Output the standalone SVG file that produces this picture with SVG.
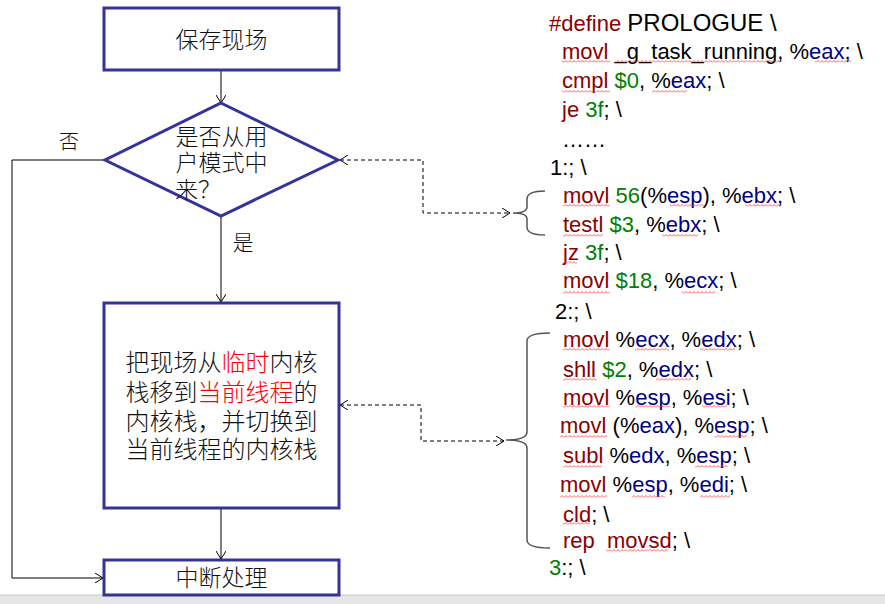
<svg xmlns="http://www.w3.org/2000/svg" width="885" height="604" viewBox="0 0 885 604">
<style>
.box{fill:#fff;stroke:#333399;stroke-width:3}
.cn{font-family:"Noto Sans CJK SC","Noto Sans",sans-serif;font-weight:300;fill:#111}
.hl{fill:#ff0000}
.line{fill:none;stroke:#000;stroke-width:1}
.dash{fill:none;stroke:#000;stroke-width:1;stroke-dasharray:4 3}
.brace{fill:none;stroke:#555;stroke-width:1.5}
.code{font-family:"Liberation Sans",Arial,sans-serif;font-size:22px;fill:#000}
.k{fill:#8b0000}
.n{fill:#008000}
.r{fill:#000080}
.sq{fill:url(#sq)}
</style>
<defs>
<marker id="ah" viewBox="0 0 8 10" refX="8" refY="5" markerWidth="8" markerHeight="10" markerUnits="userSpaceOnUse" orient="auto-start-reverse">
<path d="M0,0 L8,5 L0,10" fill="none" stroke="#000" stroke-width="1"/>
</marker>
<pattern id="sq" width="4" height="3" patternUnits="userSpaceOnUse">
<path d="M0,2.5 L2,0.5 L4,2.5" fill="none" stroke="#ff3030" stroke-width="0.8"/>
</pattern>
</defs>
<rect x="0" y="595" width="885" height="9" fill="#e6e6e6"/>
<line x1="0" y1="595" x2="885" y2="595" stroke="#c8c8c8" stroke-width="1"/>

<g id="connectors">
<path class="line" d="M221,70 V103" marker-end="url(#ah)"/>
<path class="line" d="M221,216 V302" marker-end="url(#ah)"/>
<path class="line" d="M221,508 V559" marker-end="url(#ah)"/>
<path class="line" d="M105,160 H12 V578 H103" marker-end="url(#ah)"/>
<path class="dash" d="M340,160 H423 V213 H510" marker-start="url(#ah)" marker-end="url(#ah)"/>
<path class="dash" d="M340,405 H421 V441 H504" marker-start="url(#ah)" marker-end="url(#ah)"/>
</g>

<g id="n-save">
<rect class="box" x="104" y="8" width="235" height="62"/>
<text class="cn" x="221.5" y="48" font-size="23" text-anchor="middle">保存现场</text>
</g>

<g id="n-decision">
<polygon class="box" points="221,103 338,160 221,216 105,160"/>
<text class="cn" x="221.5" y="145" font-size="23" text-anchor="middle">是否从用</text>
<text class="cn" x="221.5" y="171" font-size="23" text-anchor="middle">户模式中</text>
<text class="cn" x="175" y="198" font-size="23">来？</text>
</g>

<g id="labels">
<text class="cn" x="69" y="149" font-size="20" text-anchor="middle">否</text>
<text class="cn" x="243" y="250" font-size="21" text-anchor="middle">是</text>
</g>

<g id="n-copy">
<rect class="box" x="104" y="303" width="235" height="205"/>
<text class="cn" x="221.5" y="371" font-size="24" text-anchor="middle">把现场从<tspan class="hl">临时</tspan>内核</text>
<text class="cn" x="221.5" y="401" font-size="24" text-anchor="middle">栈移到<tspan class="hl">当前线程</tspan>的</text>
<text class="cn" x="221.5" y="430" font-size="24" text-anchor="middle">内核栈，并切换到</text>
<text class="cn" x="221.5" y="458" font-size="24" text-anchor="middle">当前线程的内核栈</text>
</g>

<g id="n-irq">
<rect class="box" x="104" y="560" width="235" height="35"/>
<text class="cn" x="221.5" y="586" font-size="23" text-anchor="middle">中断处理</text>
</g>

<g id="braces">
<path class="brace" d="M545,191 Q527,191 527,199 L527,207 Q527,213 513,213 Q527,213 527,219 L527,227 Q527,235 545,235"/>
<path class="brace" d="M550,333 Q527,333 527,341 L527,432 Q527,440 506,440 Q527,440 527,448 L527,540 Q527,548 550,548"/>
</g>

<g id="code">
<text class="code" x="549" y="31"><tspan class="k">#define </tspan><tspan font-size="24">PROLOGUE \</tspan></text>
<text class="code" x="562" y="59"><tspan class="k">movl</tspan> _g_task_running, %<tspan class="r">eax</tspan>; \</text>
<text class="code" x="562" y="88"><tspan class="k">cmpl</tspan> <tspan class="n">$0</tspan>, %<tspan class="r">eax</tspan>; \</text>
<text class="code" x="562" y="117"><tspan class="k">je</tspan> <tspan class="n">3f</tspan>; \</text>
<text class="code" x="562" y="147">……</text>
<text class="code" x="550" y="175">1:; \</text>
<text class="code" x="563" y="203"><tspan class="k">movl</tspan> <tspan class="n">56</tspan>(%<tspan class="r">esp</tspan>), %<tspan class="r">ebx</tspan>; \</text>
<text class="code" x="563" y="232"><tspan class="k">testl</tspan> <tspan class="n">$3</tspan>, %<tspan class="r">ebx</tspan>; \</text>
<text class="code" x="563" y="260"><tspan class="k">jz</tspan> <tspan class="n">3f</tspan>; \</text>
<text class="code" x="563" y="288"><tspan class="k">movl</tspan> <tspan class="n">$18</tspan>, %<tspan class="r">ecx</tspan>; \</text>
<text class="code" x="555" y="319">2:; \</text>
<text class="code" x="563" y="347"><tspan class="k">movl</tspan> %<tspan class="r">ecx</tspan>, %<tspan class="r">edx</tspan>; \</text>
<text class="code" x="563" y="377"><tspan class="k">shll</tspan> <tspan class="n">$2</tspan>, %<tspan class="r">edx</tspan>; \</text>
<text class="code" x="563" y="405"><tspan class="k">movl</tspan> %<tspan class="r">esp</tspan>, %<tspan class="r">esi</tspan>; \</text>
<text class="code" x="560" y="433"><tspan class="k">movl</tspan> (%<tspan class="r">eax</tspan>), %<tspan class="r">esp</tspan>; \</text>
<text class="code" x="563" y="463"><tspan class="k">subl</tspan> %<tspan class="r">edx</tspan>, %<tspan class="r">esp</tspan>; \</text>
<text class="code" x="560" y="492"><tspan class="k">movl</tspan> %<tspan class="r">esp</tspan>, %<tspan class="r">edi</tspan>; \</text>
<text class="code" x="563" y="522"><tspan class="k">cld</tspan>; \</text>
<text class="code" x="563" y="548" xml:space="preserve"><tspan class="k">rep  movsd</tspan>; \</text>
<text class="code" x="549" y="575"><tspan class="n">3</tspan>:; \</text>
</g>

<g id="spelling-marks">
<rect class="sq" x="562" y="60" width="48" height="3"/>
<rect class="sq" x="615" y="60" width="165" height="3"/>
<rect class="sq" x="815" y="60" width="36" height="3"/>
<rect class="sq" x="562" y="90" width="48" height="3"/>
<rect class="sq" x="652" y="90" width="35" height="3"/>
<rect class="sq" x="563" y="204" width="47" height="3"/>
<rect class="sq" x="670" y="204" width="35" height="3"/>
<rect class="sq" x="745" y="204" width="36" height="3"/>
<rect class="sq" x="563" y="234" width="40" height="3"/>
<rect class="sq" x="662" y="234" width="36" height="3"/>
<rect class="sq" x="563" y="261" width="14" height="3"/>
<rect class="sq" x="563" y="291" width="47" height="3"/>
<rect class="sq" x="682" y="291" width="33" height="3"/>
<rect class="sq" x="563" y="348" width="47" height="3"/>
<rect class="sq" x="635" y="348" width="34" height="3"/>
<rect class="sq" x="700" y="348" width="35" height="3"/>
<rect class="sq" x="563" y="378" width="34" height="3"/>
<rect class="sq" x="656" y="378" width="35" height="3"/>
<rect class="sq" x="563" y="405" width="47" height="3"/>
<rect class="sq" x="635" y="405" width="35" height="3"/>
<rect class="sq" x="702" y="405" width="25" height="3"/>
<rect class="sq" x="560" y="435" width="47" height="3"/>
<rect class="sq" x="715" y="435" width="32" height="3"/>
<rect class="sq" x="563" y="465" width="39" height="3"/>
<rect class="sq" x="695" y="465" width="33" height="3"/>
<rect class="sq" x="560" y="495" width="47" height="3"/>
<rect class="sq" x="632" y="495" width="33" height="3"/>
<rect class="sq" x="700" y="495" width="30" height="3"/>
<rect class="sq" x="563" y="522" width="27" height="3"/>
<rect class="sq" x="606" y="549" width="62" height="3"/>
</g>
</svg>
